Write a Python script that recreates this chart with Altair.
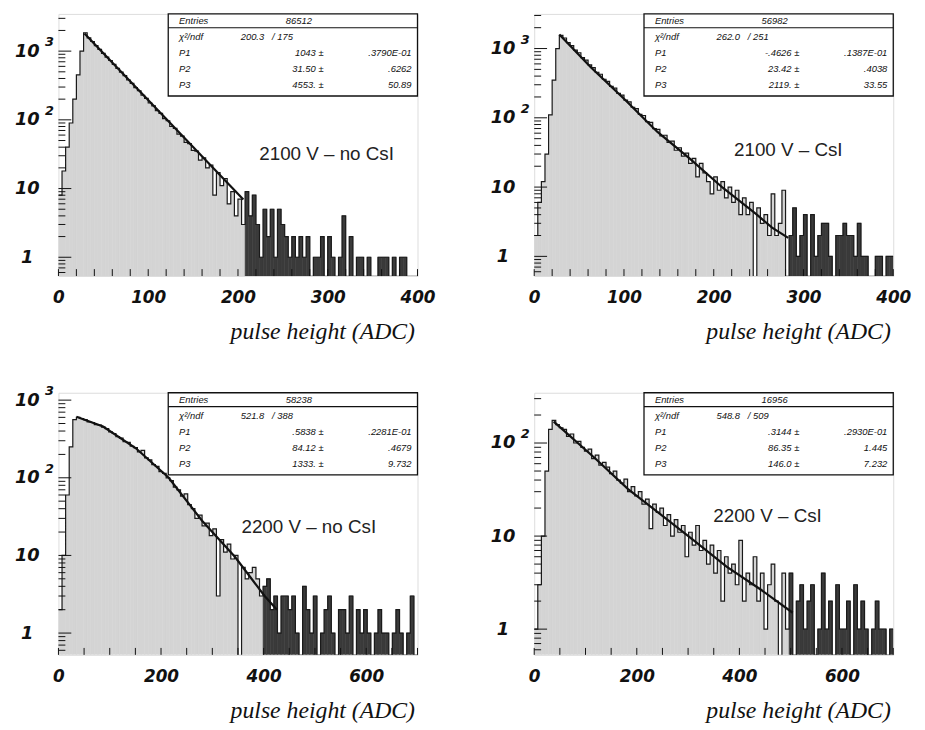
import altair as alt
import pandas as pd

W, H = 363, 265
FLOOR = 0.3
TICKFONT = "DejaVu Sans"

# ---------------- panel 1 : 2100 V - no CsI (bins of 4 ADC) ----------------
p1_counts = [8, 18, 40, 90, 200, 450, 1000, 1850, 1560, 1380,
             1200, 1060, 930, 820, 730, 640, 560, 495, 440, 380,
             340, 295, 265, 228, 205, 176, 160, 136, 124, 104,
             97, 80, 75, 62, 58, 47, 45, 36, 35, 26,
             28, 20, 22, 8, 17, 11, 14, 6, 9, 4,
             7, 3, 9, 4, 8, 3, 1, 5, 2, 5,
             1, 5, 3, 2, 1, 2, 1, 2, 1, 2,
             0, 1, 1, 2, 0, 2, 1, 0, 1, 4,
             0, 2, 0, 1, 1, 0, 1, 0, 0, 1,
             1, 1, 0, 1, 0, 1, 1, 0, 0, 0]
p1_fit_x = [29, 206]
p1_fit_y = [1810, 6.9]
p1_stats = ["86512", "200.3", "/ 175", ["1043 ±", "31.50 ±", "4553. ±"], [".3790E-01", ".6262", "50.89"]]

# ---------------- panel 2 : 2100 V - CsI (bins of 4 ADC) ----------------
p2_counts = [2, 6, 12, 30, 110, 350, 1000, 1550, 1420, 1220,
             1100, 950, 870, 740, 680, 580, 530, 455, 425, 360,
             335, 285, 268, 225, 212, 180, 170, 142, 136, 112,
             108, 88, 86, 70, 68, 55, 56, 44, 46, 34,
             37, 28, 31, 22, 26, 14, 22, 16, 12, 8,
             14, 9, 12, 7, 10, 6, 9, 4, 7, 4,
             6, 0, 5, 3, 4, 2, 8, 2, 3, 9,
             0, 2, 5, 1, 2, 4, 0, 4, 1, 2,
             3, 3, 1, 0, 2, 2, 3, 2, 2, 1,
             3, 1, 1, 0, 0, 1, 1, 0, 1, 1]
p2_fit_x = [28, 63, 100, 137, 173, 210, 247, 265, 283]
p2_fit_y = [1600, 537, 189, 63, 26, 9.8, 4.1, 2.6, 1.85]
p2_stats = ["56982", "262.0", "/ 251", ["-.4626 ±", "23.42 ±", "2119. ±"], [".1387E-01", ".4038", "33.55"]]

# ---------------- panel 3 : 2200 V - no CsI (bins of 7 ADC) ----------------
p3_counts = [2, 10, 60, 250, 560, 600, 580, 560, 525, 515,
             485, 478, 450, 430, 390, 372, 338, 325, 292, 285,
             255, 245, 215, 225, 180, 170, 148, 140, 120, 114,
             100, 92, 76, 70, 58, 62, 45, 40, 30, 33,
             24, 26, 18, 22, 3, 16, 11, 14, 9, 10,
             0, 7, 5, 6, 7, 5, 3, 4, 5, 2,
             3, 1, 3, 3, 2, 3, 1, 0, 4, 2,
             1, 3, 0, 1, 2, 3, 1, 0, 2, 2,
             1, 3, 0, 2, 1, 2, 1, 0, 1, 2,
             1, 1, 0, 1, 2, 1, 0, 1, 3, 0]
p3_fit_x = [35, 87, 151, 215, 280, 344, 402, 426]
p3_fit_y = [611, 457, 240, 100, 28, 9.6, 3.0, 2.0]
p3_stats = ["58238", "521.8", "/ 388", [".5838 ±", "84.12 ±", "1333. ±"], [".2281E-01", ".4679", "9.732"]]

# ---------------- panel 4 : 2200 V - CsI (bins of 7 ADC) ----------------
p4_counts = [1, 3, 10, 50, 140, 175, 158, 146, 140, 118,
             125, 100, 104, 90, 82, 86, 68, 74, 58, 62,
             55, 47, 50, 40, 37, 41, 30, 34, 27, 30,
             22, 25, 12, 22, 18, 20, 13, 17, 10, 15,
             11, 13, 6, 11, 8, 13, 7, 9, 5, 8,
             4, 7, 2, 6, 4, 5, 3, 9, 2, 4,
             3, 6, 2, 4, 1, 3, 5, 2, 0, 4,
             1, 4, 0, 2, 3, 1, 2, 3, 0, 1,
             4, 1, 2, 0, 3, 1, 1, 2, 0, 3,
             1, 2, 1, 0, 1, 2, 1, 1, 0, 1]
p4_fit_x = [38, 118, 183, 247, 311, 375, 440, 504]
p4_fit_y = [170, 69, 32, 17, 9, 4.7, 2.7, 1.5]
p4_stats = ["16956", "548.8", "/ 509", [".3144 ±", "86.35 ±", "146.0 ±"], [".2930E-01", "1.445", "7.232"]]

stat_labels = ["Entries", "χ²/ndf", "P1", "P2", "P3"]
x_title = "pulse height (ADC)"

FILL = "#d4d4d4"
TAILFILL = "#3a3a3a"


def hist_frame(counts, bw, tail_start):
    xs = [i * bw for i in range(len(counts))] + [len(counts) * bw]
    cs = list(counts) + [counts[-1]]
    df = pd.DataFrame({"x": xs, "c": cs})
    df["x2"] = df["x"] + bw
    df["y"] = df["c"].clip(lower=FLOOR)
    df["part"] = ["tail" if x >= tail_start else "bulk" for x in df["x"]]
    return df


def panel(counts, bw, tail_start, xmax, xlabels, xstep, ydom, decades, sups,
          fit_x, fit_y, stats, label, label_pos):
    xs = alt.Scale(domain=[0, xmax], nice=False, zero=False)
    ys = alt.Scale(type="log", domain=ydom, nice=False)
    xax = alt.Axis(values=xlabels, format="d", grid=False, domain=False, ticks=False,
                   tickSize=0, labelFlush=False, labelFont=TICKFONT, labelFontSize=17,
                   labelFontWeight="bold", labelFontStyle="italic", labelColor="#111",
                   labelPadding=14, labelBaseline="top",
                   title=x_title, titleFont="Liberation Serif", titleFontSize=24,
                   titleFontStyle="italic", titleFontWeight="normal", titleColor="#111",
                   titleAlign="right", titleX=360, titleY=56, titleBaseline="middle")
    yax = alt.Axis(values=decades, labelExpr="datum.value < 5 ? '1' : '10'", grid=False,
                   domain=False, ticks=False, tickSize=0, labelFont=TICKFONT,
                   labelFontSize=18, labelFontWeight="bold", labelFontStyle="italic",
                   labelColor="#111", labelAlign="center", labelBaseline="middle",
                   labelPadding=32, title=None)
    X = alt.X("x:Q", scale=xs, axis=xax)
    Y = alt.Y("y:Q", scale=ys, axis=yax)
    part_scale = alt.Scale(domain=["bulk", "tail"], range=[FILL, TAILFILL])

    df = hist_frame(counts, bw, tail_start)
    bars = alt.Chart(df.iloc[:-1]).mark_bar(clip=True, strokeWidth=0.6).encode(
        x=X, x2="x2:Q", y=Y, y2=alt.value(H),
        color=alt.Color("part:N", scale=part_scale, legend=None),
        stroke=alt.Stroke("part:N", scale=part_scale, legend=None))
    line = alt.Chart(df).mark_line(interpolate="step-after", color="#1a1a1a",
                                   strokeWidth=1.2, clip=True).encode(x=X, y=Y)
    fit = alt.Chart(pd.DataFrame({"x": fit_x, "y": fit_y})).mark_line(
        color="#111", strokeWidth=2.2, clip=True).encode(x=X, y=Y)

    xt = alt.Chart(pd.DataFrame({"x": list(range(0, xmax + 1, xstep))})).mark_rule(
        color="#111", strokeWidth=1).encode(x=X, y=alt.value(H), y2=alt.value(H - 7))
    minor, major = [], []
    for e in range(-1, 5):
        for m in range(1, 10):
            v = m * 10 ** e
            if ydom[0] < v < ydom[1]:
                (major if m == 1 else minor).append(v)
    ytmin = alt.Chart(pd.DataFrame({"y": minor})).mark_rule(
        color="#111", strokeWidth=1).encode(y=Y, x=alt.value(0), x2=alt.value(7))
    ytmaj = alt.Chart(pd.DataFrame({"y": major})).mark_rule(
        color="#111", strokeWidth=1).encode(y=Y, x=alt.value(0), x2=alt.value(13))
    sup = alt.Chart(pd.DataFrame({"y": [s[0] for s in sups], "s": [s[1] for s in sups]})).mark_text(
        font=TICKFONT, fontSize=13, fontWeight="bold", fontStyle="italic", color="#111",
        align="center", baseline="middle", dy=-9).encode(y=Y, x=alt.value(-9), text="s:N")

    main = alt.layer(bars, line, fit, xt, ytmin, ytmaj, sup)

    box = alt.Chart(pd.DataFrame({"a": [0]})).mark_rect(
        fill="white", stroke="#111", strokeWidth=1.3).encode(
        x=alt.value(111), x2=alt.value(W), y=alt.value(0), y2=alt.value(83))
    sep = alt.Chart(pd.DataFrame({"a": [0]})).mark_rule(
        color="#111", strokeWidth=1.2).encode(x=alt.value(111), x2=alt.value(W), y=alt.value(14))

    RY = alt.Y("row:Q", scale=alt.Scale(domain=[0, 4], range=[7, 72]), axis=None)
    tstyle = dict(font="Liberation Sans", fontSize=9.5, fontStyle="italic",
                  color="#111", baseline="middle")

    def txt(rows, texts, xpos, align):
        d = pd.DataFrame({"row": rows, "t": texts})
        return alt.Chart(d).mark_text(align=align, **tstyle).encode(
            y=RY, x=alt.value(xpos), text="t:N")

    entries, chi, ndf, pv, pe = stats
    texts = [
        txt([0, 1, 2, 3, 4], stat_labels, 122, "left"),
        txt([0], [entries], 243, "center"),
        txt([1], [chi], 208, "right"),
        txt([1], [ndf], 216, "left"),
        txt([2, 3, 4], pv, 268, "right"),
        txt([2, 3, 4], pe, 357, "right"),
    ]
    annot = alt.Chart(pd.DataFrame({"t": [label]})).mark_text(
        font="Liberation Sans", fontSize=19, color="#222", align="left",
        baseline="middle").encode(x=alt.value(label_pos[0]), y=alt.value(label_pos[1]), text="t:N")

    return alt.layer(main, box, sep, *texts, annot).resolve_scale(y="independent").properties(
        width=W, height=H)


c1 = panel(p1_counts, 4, 208, 400, [0, 100, 200, 300, 400], 20, [0.533, 3480], [1, 10, 100, 1000],
           [(1000, "3"), (100, "2")], p1_fit_x, p1_fit_y, p1_stats, "2100 V – no CsI", (203, 142))
c2 = panel(p2_counts, 4, 280, 400, [0, 100, 200, 300, 400], 20, [0.52, 3160], [1, 10, 100, 1000],
           [(1000, "3"), (100, "2")], p2_fit_x, p2_fit_y, p2_stats, "2100 V – CsI", (202, 138))
c3 = panel(p3_counts, 7, 399, 700, [0, 200, 400, 600], 50, [0.524, 1245], [1, 10, 100, 1000],
           [(1000, "3"), (100, "2")], p3_fit_x, p3_fit_y, p3_stats, "2200 V – no CsI", (185, 136))
c4 = panel(p4_counts, 7, 497, 700, [0, 200, 400, 600], 50, [0.529, 347], [1, 10, 100],
           [(100, "2")], p4_fit_x, p4_fit_y, p4_stats, "2200 V – CsI", (181, 125))

chart = alt.concat(c1, c2, c3, c4, columns=2, spacing=118, bounds="flush").properties(
    padding={"left": 5, "top": 0, "right": 5, "bottom": 5}
).configure_view(stroke="#111", strokeWidth=1.5).configure(background="white")

chart.save("out.html", embed_options={"renderer": "svg", "actions": False})
